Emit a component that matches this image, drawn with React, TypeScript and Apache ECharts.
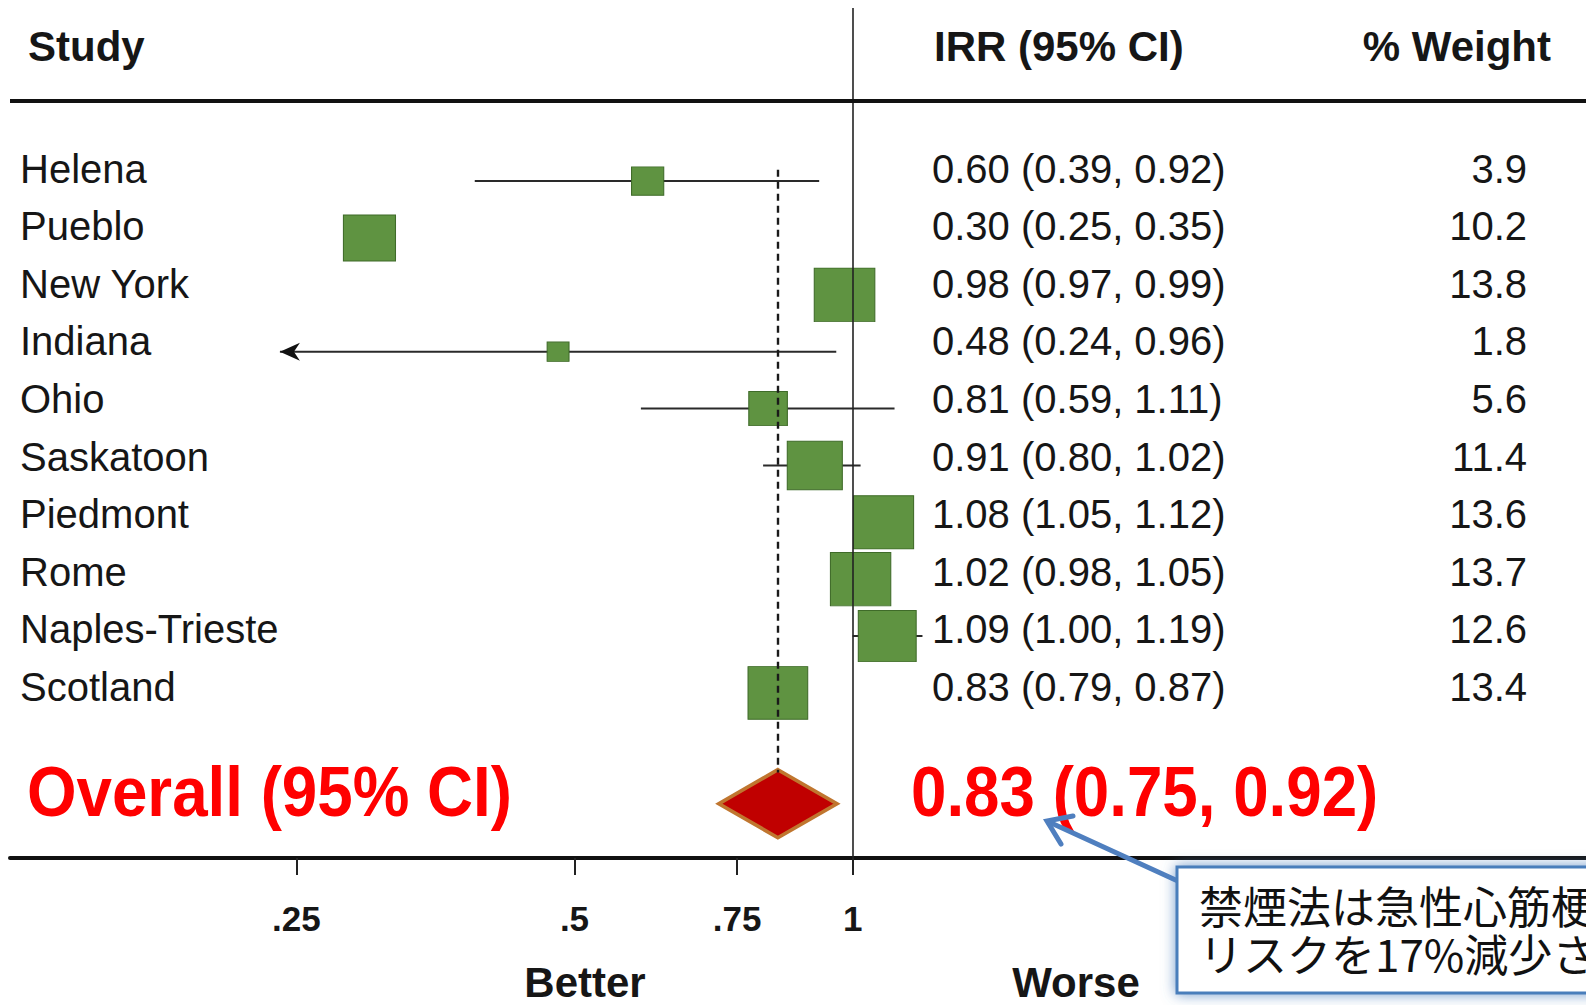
import React, { useEffect, useRef } from 'react';
import * as echarts from 'echarts';

// ---- data ----
const studies = ['Helena', 'Pueblo', 'New York', 'Indiana', 'Ohio', 'Saskatoon', 'Piedmont', 'Rome', 'Naples-Trieste', 'Scotland'];
const irr = [0.60, 0.30, 0.98, 0.48, 0.81, 0.91, 1.08, 1.02, 1.09, 0.83];
const ciLow = [0.39, 0.25, 0.97, 0.24, 0.59, 0.80, 1.05, 0.98, 1.00, 0.79];
const ciHigh = [0.92, 0.35, 0.99, 0.96, 1.11, 1.02, 1.12, 1.05, 1.19, 0.87];
const weights = [3.9, 10.2, 13.8, 1.8, 5.6, 11.4, 13.6, 13.7, 12.6, 13.4];
const hiddenCI = ['Pueblo'];
const overallEst = 0.83;
const overallLow = 0.75;
const overallHigh = 0.92;
const xTicks = [0.25, 0.5, 0.75, 1];
const xTickLabels = ['.25', '.5', '.75', '1'];
const headers = ['Study', 'IRR (95% CI)', '% Weight'];
const sideLabels = ['Better', 'Worse'];
const noteLines = ['禁煙法は急性心筋梗塞の', 'リスクを17%減少させた'];

const OVERALL_ROW = 11;
const FONT = '"Liberation Sans", Arial, Helvetica, sans-serif';
const fmt2 = (v: number) => v.toFixed(2);
const irrText = irr.map((v, i) => `${fmt2(v)} (${fmt2(ciLow[i])}, ${fmt2(ciHigh[i])})`);
const weightText = weights.map((w) => w.toFixed(1));
const overallText = `${fmt2(overallEst)} (${fmt2(overallLow)}, ${fmt2(overallHigh)})`;

export default function App() {
  const ref = useRef<HTMLDivElement>(null);

  useEffect(() => {
    if (!ref.current) return;
    const chart = echarts.init(ref.current, undefined, { renderer: 'svg' });

    const tableLabel = {
      fontSize: 40,
      color: '#161616',
      fontFamily: FONT,
      interval: 0,
      inside: true,
    };

    const option: any = {
      animation: false,
      backgroundColor: '#ffffff',
      textStyle: { fontFamily: FONT },
      grid: [
        { left: 10, right: 0, top: 8, bottom: 147, containLabel: false, outerBoundsMode: 'none' },
        { left: 10, right: 0, top: 139.7, bottom: 289.3, containLabel: false, outerBoundsMode: 'none' },
      ],
      xAxis: [
        {
          type: 'log',
          logBase: 2,
          gridIndex: 0,
          position: 'bottom',
          min: 0.1225,
          max: 6.217,
          axisLine: { show: true, onZero: false, lineStyle: { color: '#111', width: 4 } },
          axisTick: { show: true, customValues: xTicks, length: 17, lineStyle: { color: '#222', width: 2 } },
          axisLabel: {
            show: true,
            customValues: xTicks,
            margin: 43,
            fontSize: 35,
            fontWeight: 'bold',
            color: '#161616',
            fontFamily: FONT,
            formatter: (v: number) => {
              const i = xTicks.findIndex((t) => Math.abs(t - v) < 1e-6);
              return i >= 0 ? xTickLabels[i] : '';
            },
          },
          splitLine: { show: false },
          minorTick: { show: false },
        },
        { type: 'value', gridIndex: 1, show: false, min: 0, max: 1 },
      ],
      yAxis: [
        { type: 'value', gridIndex: 0, min: -3.044, max: 11.902, inverse: true, show: false },
        {
          type: 'category', gridIndex: 1, data: studies, inverse: true, position: 'left',
          axisLine: { show: false }, axisTick: { show: false }, splitLine: { show: false },
          axisLabel: { ...tableLabel, margin: 10 },
        },
        {
          type: 'category', gridIndex: 1, data: irrText, inverse: true, position: 'left', offset: -921,
          axisLine: { show: false }, axisTick: { show: false }, splitLine: { show: false },
          axisLabel: { ...tableLabel, margin: 1 },
        },
        {
          type: 'category', gridIndex: 1, data: weightText, inverse: true, position: 'right', offset: -58,
          axisLine: { show: false }, axisTick: { show: false }, splitLine: { show: false },
          axisLabel: { ...tableLabel, margin: 1 },
        },
      ],
      series: [
        {
          type: 'custom',
          xAxisIndex: 0,
          yAxisIndex: 0,
          z: 1,
          silent: true,
          encode: { x: [0, 1], y: 2 },
          data: studies
            .map((s, i) => [ciLow[i], ciHigh[i], i])
            .filter((_, i) => !hiddenCI.includes(studies[i])),
          renderItem: (params: any, api: any) => {
            const lo = api.value(0);
            const hi = api.value(1);
            const row = api.value(2);
            const p1 = api.coord([lo, row]);
            const p2 = api.coord([hi, row]);
            const children: any[] = [
              {
                type: 'line',
                shape: { x1: p1[0], y1: p1[1], x2: p2[0], y2: p2[1] },
                style: { stroke: '#2a2a2a', lineWidth: 2 },
              },
            ];
            if (lo < xTicks[0]) {
              children.push({
                type: 'polygon',
                shape: {
                  points: [
                    [p1[0], p1[1]],
                    [p1[0] + 20, p1[1] - 9],
                    [p1[0] + 14, p1[1]],
                    [p1[0] + 20, p1[1] + 9],
                  ],
                },
                style: { fill: '#111' },
              });
            }
            return { type: 'group', children };
          },
        },
        {
          type: 'scatter',
          xAxisIndex: 0,
          yAxisIndex: 0,
          z: 2,
          silent: true,
          data: irr.map((v, i) => [v, i, weights[i]]),
          symbol: 'rect',
          symbolSize: (val: number[]) => [16.3 * Math.sqrt(val[2]), 14.4 * Math.sqrt(val[2])],
          itemStyle: { color: '#5f9341', borderColor: '#3f6b29', borderWidth: 1, opacity: 1 },
          markLine: {
            silent: true,
            symbol: 'none',
            label: { show: false },
            data: [
              { xAxis: 1, lineStyle: { color: '#222', width: 1.6, type: 'solid' } },
              { yAxis: -1.409, lineStyle: { color: '#111', width: 4, type: 'solid' } },
              [
                { coord: [overallEst, -0.2], lineStyle: { color: '#1a1a1a', width: 2.4, type: [7, 5] } },
                { coord: [overallEst, OVERALL_ROW - 0.6] },
              ],
            ],
          },
        },
        {
          type: 'scatter',
          xAxisIndex: 0,
          yAxisIndex: 0,
          z: 4,
          silent: true,
          data: [[overallEst, OVERALL_ROW]],
          symbol: 'diamond',
          symbolSize: [118, 68],
          symbolOffset: [0, -3],
          itemStyle: { color: '#c00000', borderColor: '#c0762f', borderWidth: 4, opacity: 1 },
        },
      ],
      graphic: [
        {
          type: 'text', x: 28, y: 46, z: 10,
          style: { text: headers[0], font: `bold 42px ${FONT}`, fill: '#161616', align: 'left', verticalAlign: 'middle' },
        },
        {
          type: 'text', x: 934, y: 46, z: 10,
          style: { text: headers[1], font: `bold 42px ${FONT}`, fill: '#161616', align: 'left', verticalAlign: 'middle' },
        },
        {
          type: 'text', x: 1551, y: 46, z: 10,
          style: { text: headers[2], font: `bold 42px ${FONT}`, fill: '#161616', align: 'right', verticalAlign: 'middle' },
        },
        {
          type: 'text', x: 27, y: 791, z: 10, scaleX: 0.91,
          style: { text: 'Overall (95% CI)', font: `bold 70px ${FONT}`, fill: '#ff0000', align: 'left', verticalAlign: 'middle' },
        },
        {
          type: 'text', x: 911, y: 791, z: 10, scaleX: 0.91,
          style: { text: overallText, font: `bold 70px ${FONT}`, fill: '#ff0000', align: 'left', verticalAlign: 'middle' },
        },
        {
          type: 'text', x: 585, y: 982, z: 10,
          style: { text: sideLabels[0], font: `bold 42px ${FONT}`, fill: '#161616', align: 'center', verticalAlign: 'middle' },
        },
        {
          type: 'text', x: 1076, y: 982, z: 10,
          style: { text: sideLabels[1], font: `bold 42px ${FONT}`, fill: '#161616', align: 'center', verticalAlign: 'middle' },
        },
        // annotation arrow
        {
          type: 'line', z: 20,
          shape: { x1: 1180, y1: 882, x2: 1049, y2: 822 },
          style: { stroke: '#4f7fbf', lineWidth: 5, lineCap: 'round' },
        },
        {
          type: 'polyline', z: 20,
          shape: { points: [[1061, 844], [1047, 821], [1073, 816]] },
          style: { stroke: '#4f7fbf', lineWidth: 5, fill: 'none', lineJoin: 'miter', lineCap: 'round' },
        },
        // annotation box
        {
          type: 'rect', z: 30,
          shape: { x: 1177, y: 867, width: 480, height: 126 },
          style: {
            fill: '#ffffff', stroke: '#4a7ebb', lineWidth: 3,
            shadowBlur: 14, shadowColor: 'rgba(79,129,189,0.8)',
          },
        },
        {
          type: 'text', x: 1199, y: 881, z: 31,
          style: {
            text: noteLines.join('\n'),
            font: `44px "Noto Sans CJK JP", sans-serif`,
            lineHeight: 48,
            fill: '#111',
            align: 'left',
            verticalAlign: 'top',
          },
        },
      ],
    };

    chart.setOption(option);
    return () => chart.dispose();
  }, []);

  return (
    <div
      ref={ref}
      style={{ position: 'fixed', left: 0, top: 0, width: 1586, height: 1005, background: '#fff' }}
    />
  );
}
